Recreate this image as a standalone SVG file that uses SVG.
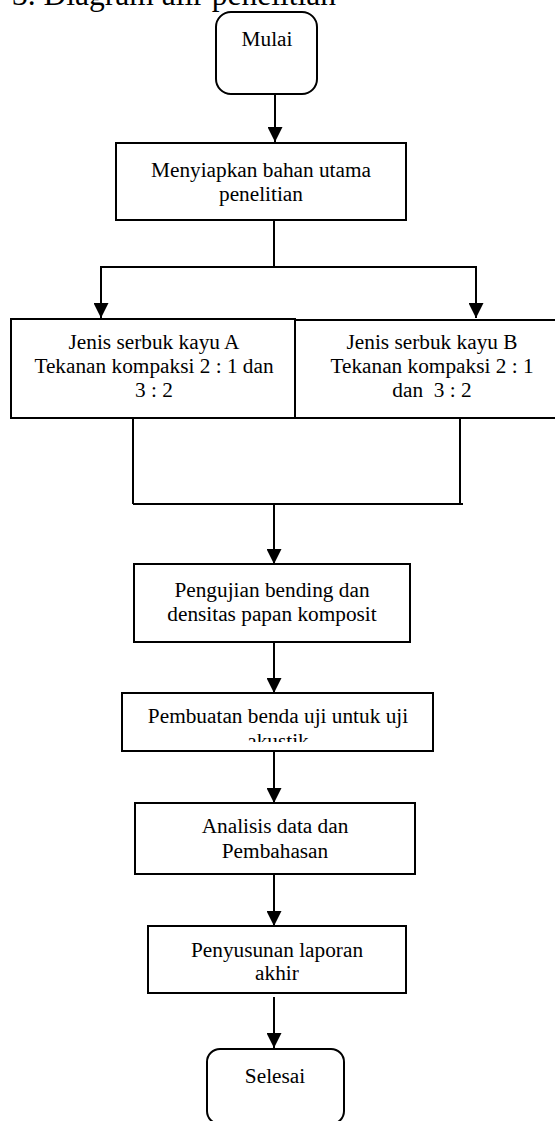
<svg xmlns="http://www.w3.org/2000/svg" width="555" height="1121" viewBox="0 0 555 1121">
<style>
.box{fill:#fff;stroke:#000;stroke-width:2}
.t{font-family:"Liberation Serif","Times New Roman",serif;font-size:21.3px;fill:#000;text-anchor:middle}
.title{font-family:"Liberation Serif","Times New Roman",serif;font-size:32px;fill:#000}
.c{fill:none;stroke:#000;stroke-width:2}
</style>
<defs>
<marker id="ah" markerUnits="userSpaceOnUse" markerWidth="16" markerHeight="15" refX="16" refY="8" orient="auto" viewBox="0 0 16 16">
<path d="M0,0 L16,8 L0,16 Z" fill="#000"/>
</marker>
<clipPath id="clipPb"><rect x="122" y="693" width="311" height="49"/></clipPath>
</defs>
<rect width="555" height="1121" fill="#fff"/>
<text class="title" x="12" y="5" textLength="324" lengthAdjust="spacingAndGlyphs">3. Diagram alir penelitian</text>

<g id="connectors">
<path class="c" d="M275,90 V142" marker-end="url(#ah)"/>
<path class="c" d="M274,220 V267"/>
<path class="c" d="M101,267 H476"/>
<path class="c" d="M101,266 V318" marker-end="url(#ah)"/>
<path class="c" d="M476,266 V318" marker-end="url(#ah)"/>
<path class="c" d="M133,418 V504"/>
<path class="c" d="M460,418 V504"/>
<path class="c" d="M133,504 H463"/>
<path class="c" d="M274,504 V564" marker-end="url(#ah)"/>
<path class="c" d="M274,642 V693" marker-end="url(#ah)"/>
<path class="c" d="M274,751 V803" marker-end="url(#ah)"/>
<path class="c" d="M274,874 V926" marker-end="url(#ah)"/>
<path class="c" d="M274,997 V1048" marker-end="url(#ah)"/>
</g>

<g id="mulai">
<rect class="box" x="216" y="12" width="101" height="82" rx="15"/>
<text class="t" x="267" y="46">Mulai</text>
</g>

<g id="menyiapkan">
<rect class="box" x="116" y="143" width="290" height="77"/>
<text class="t" x="261" y="177">Menyiapkan bahan utama</text>
<text class="t" x="261" y="201">penelitian</text>
</g>

<g id="jenisA">
<rect class="box" x="11" y="319" width="284" height="99"/>
<text class="t" x="154" y="349">Jenis serbuk kayu A</text>
<text class="t" x="154" y="373">Tekanan kompaksi 2 : 1 dan</text>
<text class="t" x="154" y="397">3 : 2</text>
</g>

<g id="jenisB">
<rect class="box" x="295" y="320" width="270" height="98"/>
<text class="t" x="432" y="349">Jenis serbuk kayu B</text>
<text class="t" x="432" y="373">Tekanan kompaksi 2 : 1</text>
<text class="t" x="432" y="397" xml:space="preserve">dan  3 : 2</text>
</g>

<g id="pengujian">
<rect class="box" x="134" y="564" width="276" height="78"/>
<text class="t" x="272" y="597">Pengujian bending dan</text>
<text class="t" x="272" y="621">densitas papan komposit</text>
</g>

<g id="pembuatan">
<rect class="box" x="122" y="693" width="311" height="58"/>
<g clip-path="url(#clipPb)">
<text class="t" x="278" y="723">Pembuatan benda uji untuk uji</text>
<text class="t" x="278" y="748">akustik</text>
</g>
</g>

<g id="analisis">
<rect class="box" x="135" y="803" width="280" height="71"/>
<text class="t" x="275" y="833">Analisis data dan</text>
<text class="t" x="275" y="858">Pembahasan</text>
</g>

<g id="penyusunan">
<rect class="box" x="148" y="926" width="258" height="67"/>
<text class="t" x="277" y="957">Penyusunan laporan</text>
<text class="t" x="277" y="980">akhir</text>
</g>

<g id="selesai">
<rect class="box" x="207" y="1049" width="137" height="75" rx="13"/>
<text class="t" x="275" y="1083">Selesai</text>
</g>
</svg>
